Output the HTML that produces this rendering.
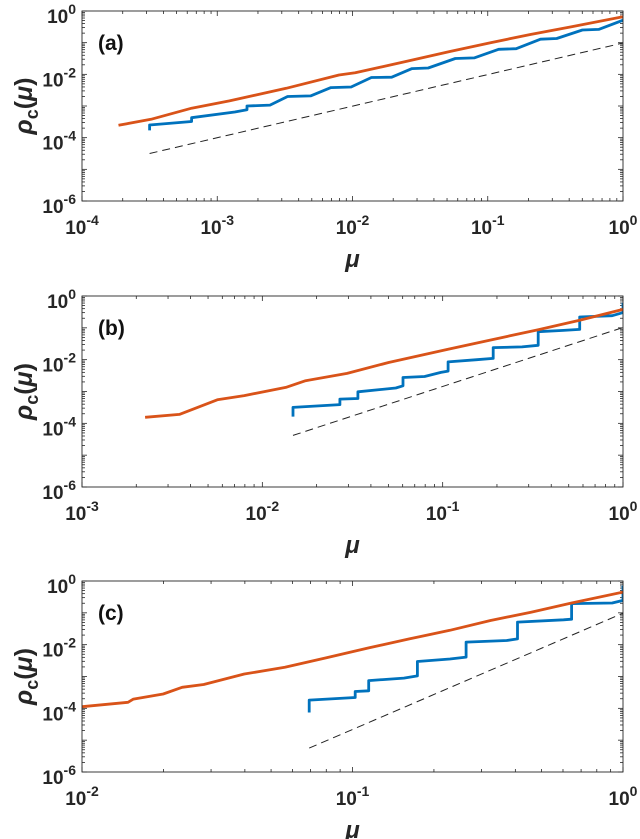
<!DOCTYPE html>
<html><head><meta charset="utf-8">
<style>
html,body{margin:0;padding:0;background:#fff;}
svg{display:block;font-family:"Liberation Sans",Arial,sans-serif;}
.tk{font-weight:bold;font-size:19px;fill:#262626;}
</style></head>
<body>
<svg id="fig" width="640" height="839" viewBox="0 0 640 839" xmlns="http://www.w3.org/2000/svg"></svg>
<script>
// ---- data (log10 values) ----
const aOrangeLogMu = [-3.73,-3.49,-3.19,-2.91,-2.49,-2.10,-1.98,-1.59,-1.28,-0.98,-0.68,-0.38,0];
const aOrangeLogRho = [-3.61,-3.42,-3.07,-2.84,-2.44,-2.02,-1.95,-1.58,-1.28,-1.00,-0.74,-0.50,-0.18];
const aBlueLogMu = [-3.50,-3.50,-3.19,-3.19,-2.87,-2.78,-2.78,-2.61,-2.48,-2.31,-2.16,-2.01,-1.86,-1.71,-1.56,-1.44,-1.24,-1.10,-0.92,-0.79,-0.61,-0.49,-0.30,-0.18,0];
const aBlueLogRho = [-3.77,-3.60,-3.49,-3.37,-3.19,-3.12,-3.00,-2.97,-2.70,-2.68,-2.42,-2.40,-2.10,-2.09,-1.82,-1.80,-1.50,-1.48,-1.21,-1.19,-0.89,-0.87,-0.60,-0.58,-0.29];
const aDashLogMu = [-3.5,0];
const aDashLogRho = [-4.5,-1.01];

const bOrangeLogMu = [-2.65,-2.46,-2.25,-2.10,-1.87,-1.76,-1.53,-1.30,-0.97,-0.74,-0.47,-0.24,0];
const bOrangeLogRho = [-3.81,-3.72,-3.26,-3.13,-2.87,-2.66,-2.43,-2.09,-1.67,-1.39,-1.06,-0.76,-0.42];
const bBlueLogMu = [-1.83,-1.83,-1.57,-1.57,-1.47,-1.47,-1.26,-1.22,-1.22,-1.10,-1.01,-0.97,-0.97,-0.81,-0.72,-0.72,-0.56,-0.47,-0.47,-0.33,-0.24,-0.24,-0.06,0,0];
const bBlueLogRho = [-3.79,-3.50,-3.41,-3.24,-3.22,-3.01,-2.89,-2.82,-2.56,-2.53,-2.40,-2.36,-2.07,-2.00,-1.96,-1.62,-1.60,-1.55,-1.12,-1.08,-1.05,-0.66,-0.62,-0.52,-0.21];
const bDashLogMu = [-1.83,0];
const bDashLogRho = [-4.38,-0.99];

const cOrangeLogMu = [-2,-1.83,-1.81,-1.70,-1.63,-1.55,-1.40,-1.25,-1.10,-0.94,-0.79,-0.64,-0.49,-0.34,-0.19,0];
const cOrangeLogRho = [-3.95,-3.81,-3.71,-3.55,-3.34,-3.25,-2.92,-2.71,-2.42,-2.10,-1.82,-1.55,-1.24,-0.98,-0.69,-0.35];
const cBlueLogMu = [-1.16,-1.16,-0.99,-0.99,-0.94,-0.94,-0.81,-0.76,-0.76,-0.64,-0.58,-0.58,-0.43,-0.39,-0.39,-0.22,-0.19,-0.19,-0.04,0,0];
const cBlueLogRho = [-4.13,-3.74,-3.66,-3.47,-3.45,-3.13,-3.05,-2.98,-2.53,-2.45,-2.39,-1.92,-1.87,-1.82,-1.29,-1.22,-1.20,-0.71,-0.69,-0.61,-0.14];
const cDashLogMu = [-1.16,0];
const cDashLogRho = [-5.25,-1.01];

const panelLabels = ["(a)","(b)","(c)"];
const yTickExps = [0,-2,-4,-6];
const aXTickExps = [-4,-3,-2,-1,0];
const bXTickExps = [-3,-2,-1,0];
const cXTickExps = [-2,-1,0];

const NS = "http://www.w3.org/2000/svg";
const svg = document.getElementById('fig');
function mk(tag, attrs, parent){
  const e = document.createElementNS(NS, tag);
  for (const k in attrs) e.setAttribute(k, attrs[k]);
  (parent||svg).appendChild(e);
  return e;
}
const L = 82, R = 623;
function drawPanel(idx, top, bottom, xmin, xTicks, series){
  const g = mk('g', {});
  
  
  const ymin = -6, ymax = 0;
  const X = v => L + (v - xmin) / (0 - xmin) * (R - L);
  const Y = v => top + (ymax - v) / (ymax - ymin) * (bottom - top);
  const cp = mk('clipPath', {id: 'clip' + idx}, g);
  mk('rect', {x: L, y: top, width: R - L, height: bottom - top}, cp);
  const tg = mk('g', {stroke: '#262626', 'stroke-width': 0.8}, g);
  
  
  for (let d = xmin; d <= 0; d++) {
    for (let m = 1; m <= 9; m++) {
      if (d === 0 && m > 1) break;
      const x = X(d + Math.log10(m));
      const len = m === 1 ? 5 : 3;
      mk('line', {x1: x, y1: bottom, x2: x, y2: bottom - len}, tg);
      mk('line', {x1: x, y1: top, x2: x, y2: top + len}, tg);
    }
  }
  for (let d = ymin; d <= 0; d++) {
    for (let m = 1; m <= 9; m++) {
      if (d === 0 && m > 1) break;
      const y = Y(d + Math.log10(m));
      const len = m === 1 ? 5 : 3;
      mk('line', {x1: L, y1: y, x2: L + len, y2: y}, tg);
      mk('line', {x1: R, y1: y, x2: R - len, y2: y}, tg);
    }
  }
  xTicks.forEach(e => {
    const t = mk('text', {x: X(e), y: bottom + 33, 'text-anchor': 'middle', class: 'tk'}, g);
    
    
    t.innerHTML = '10<tspan dy="-9" font-size="14">' + e + '</tspan>';
  });
  yTickExps.forEach(e => {
    const t = mk('text', {x: 76, y: Y(e) + 12, 'text-anchor': 'end', class: 'tk'}, g);
    
    
    t.innerHTML = '10<tspan dy="-9" font-size="14">' + e + '</tspan>';
  });
  const sg = mk('g', {'clip-path': 'url(#clip' + idx + ')'}, g);
  series.forEach(s => {
    const pts = s.xs.map((v, i) => X(v).toFixed(1) + ',' + Y(s.ys[i]).toFixed(1)).join(' ');
    const p = mk('polyline', {points: pts, fill: 'none', stroke: s.color, 'stroke-width': s.w, 'stroke-dasharray': s.dash || 'none', 'stroke-linejoin': 'round'}, sg);
    
    
  });
  const box = mk('rect', {x: L, y: top, width: R - L, height: bottom - top, fill: 'none', stroke: '#262626', 'stroke-width': 0.9}, g);
  
  
  const pl = mk('text', {x: 98, y: top + 39, 'font-weight': 'bold', 'font-size': 21, fill: '#111'}, g);
  
  
  pl.textContent = panelLabels[idx];
  const xl = mk('text', {x: (L + R) / 2, y: bottom + 66, 'text-anchor': 'middle', 'font-weight': 'bold', 'font-style': 'italic', 'font-size': 24, fill: '#262626'}, g);
  
  
  xl.textContent = 'μ';
  const cy = (top + bottom) / 2;
  const yl = mk('text', {x: 0, y: 0, transform: 'translate(32,' + cy + ') rotate(-90)', 'text-anchor': 'middle', 'font-weight': 'bold', 'font-size': 25, fill: '#262626'}, g);
  
  
  yl.innerHTML = '<tspan font-style="italic">ρ</tspan><tspan dy="6" font-size="18">c</tspan><tspan dy="-6">(</tspan><tspan font-style="italic">μ</tspan>)';
}
const BLUE = '#0072BD', ORANGE = '#D95319';
drawPanel(0, 11, 201, -4, aXTickExps, [
  {xs: aDashLogMu, ys: aDashLogRho, color: '#222', w: 1, dash: '8,5', name: 'reference-line'},
  {xs: aBlueLogMu, ys: aBlueLogRho, color: BLUE, w: 2.8, name: 'blue-series'},
  {xs: aOrangeLogMu, ys: aOrangeLogRho, color: ORANGE, w: 2.8, name: 'orange-series'}
]);
drawPanel(1, 296, 487, -3, bXTickExps, [
  {xs: bDashLogMu, ys: bDashLogRho, color: '#222', w: 1, dash: '8,5', name: 'reference-line'},
  {xs: bBlueLogMu, ys: bBlueLogRho, color: BLUE, w: 2.8, name: 'blue-series'},
  {xs: bOrangeLogMu, ys: bOrangeLogRho, color: ORANGE, w: 2.8, name: 'orange-series'}
]);
drawPanel(2, 581, 772, -2, cXTickExps, [
  {xs: cDashLogMu, ys: cDashLogRho, color: '#222', w: 1, dash: '8,5', name: 'reference-line'},
  {xs: cBlueLogMu, ys: cBlueLogRho, color: BLUE, w: 2.8, name: 'blue-series'},
  {xs: cOrangeLogMu, ys: cOrangeLogRho, color: ORANGE, w: 2.8, name: 'orange-series'}
]);
</script>
</body></html>
